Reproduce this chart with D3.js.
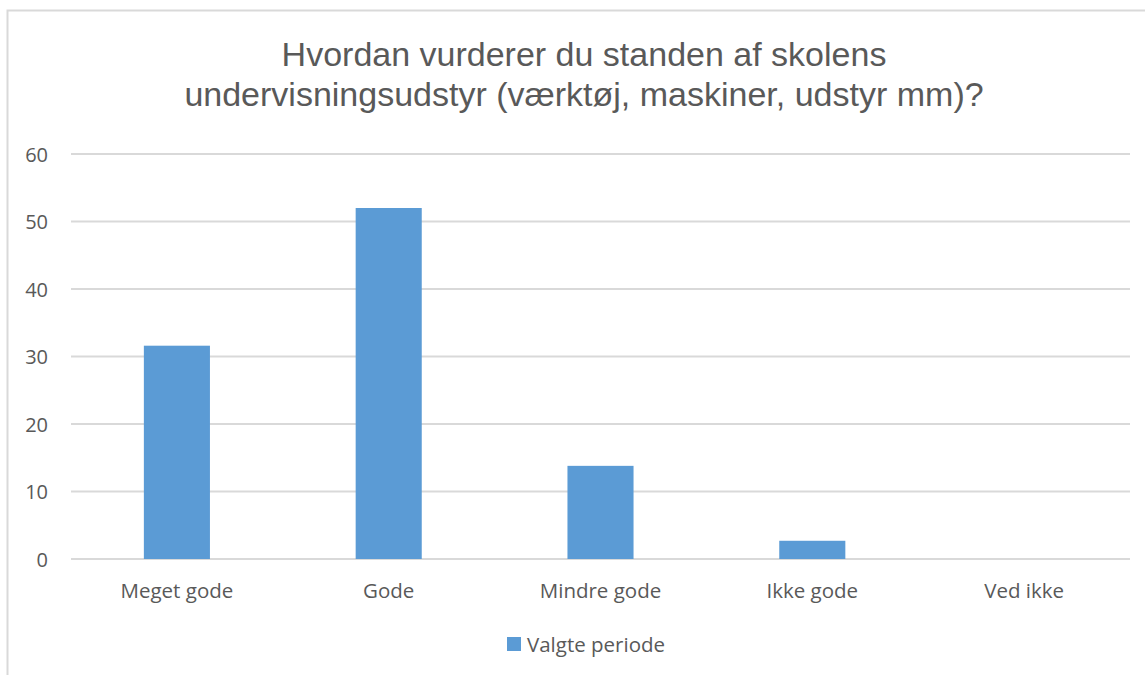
<!DOCTYPE html>
<html>
<head>
<meta charset="utf-8">
<script src="https://d3js.org/d3.v7.min.js"></script>
<style>
    body { margin: 0; background: #fff; }
    svg text { font-family: "Open Sans", "Liberation Sans", sans-serif; fill: #595959; }
    svg text.title { font-family: "Liberation Sans", Arial, sans-serif; }
    .grid line { stroke: #d9d9d9; stroke-width: 2; }
</style>
</head>
<body>
<div id="chart"></div>
<script>
// data
var categories = ["Meget gode", "Gode", "Mindre gode", "Ikke gode", "Ved ikke"];
var values = [31.6, 52.0, 13.8, 2.7, 0];
var yTicks = [0, 10, 20, 30, 40, 50, 60];
var seriesName = "Valgte periode";
var titleLines = ["Hvordan vurderer du standen af skolens",
                  "undervisningsudstyr (værktøj, maskiner, udstyr mm)?"];

var width = 1145, height = 675;
var plot = {left: 71, right: 1130, top: 154, bottom: 559};

var svg = d3.select("#chart").append("svg")
    .attr("width", width)
    .attr("height", height);

// chart frame
svg.append("rect")
    .attr("x", 7.5).attr("y", 10.5)
    .attr("width", 1200).attr("height", 700)
    .attr("fill", "#fff")
    .attr("stroke", "#d9d9d9")
    .attr("stroke-width", 2);

var x = d3.scaleBand()
    .domain(categories)
    .range([plot.left, plot.right])
    .paddingInner(0.688)
    .paddingOuter(0.344);

var y = d3.scaleLinear()
    .domain([0, 60])
    .range([plot.bottom, plot.top]);

// gridlines
svg.append("g").attr("class", "grid")
    .selectAll("line")
    .data(yTicks)
    .enter().append("line")
    .attr("x1", plot.left).attr("x2", plot.right)
    .attr("y1", function(d) { return y(d); })
    .attr("y2", function(d) { return y(d); });

// y axis labels
var yAxis = d3.axisLeft(y).tickValues(yTicks).tickSize(0).tickPadding(0);
var gy = svg.append("g").attr("transform", "translate(48,0)").call(yAxis);
gy.select(".domain").remove();
gy.selectAll("text")
    .style("font-size", "20px")
    .attr("dy", "0.35em")
    .attr("fill", "#595959");

// bars
svg.selectAll(".bar")
    .data(values)
    .enter().append("rect")
    .attr("class", "bar")
    .attr("x", function(d, i) { return x(categories[i]); })
    .attr("width", x.bandwidth())
    .attr("y", function(d) { return y(d); })
    .attr("height", function(d) { return y(0) - y(d); })
    .attr("fill", "#5b9bd5");

// x axis labels
var xAxis = d3.axisBottom(x).tickSize(0).tickPadding(0);
var gx = svg.append("g").attr("transform", "translate(0,598)").call(xAxis);
gx.select(".domain").remove();
gx.selectAll("text")
    .style("font-size", "20.5px")
    .attr("dy", 0)
    .attr("y", 0)
    .attr("fill", "#595959");

// title
svg.append("g").selectAll("text")
    .data(titleLines)
    .enter().append("text")
    .attr("class", "title")
    .attr("x", 584)
    .attr("y", function(d, i) { return 66 + i * 40; })
    .attr("text-anchor", "middle")
    .style("font-size", "34px")
    .text(function(d) { return d; });

// legend
var legend = svg.append("g").attr("transform", "translate(507,637)");
legend.append("rect").attr("width", 14).attr("height", 14).attr("fill", "#5b9bd5");
legend.append("text")
    .attr("x", 20).attr("y", 15)
    .style("font-size", "20.5px")
    .text(seriesName);
</script>
</body>
</html>
